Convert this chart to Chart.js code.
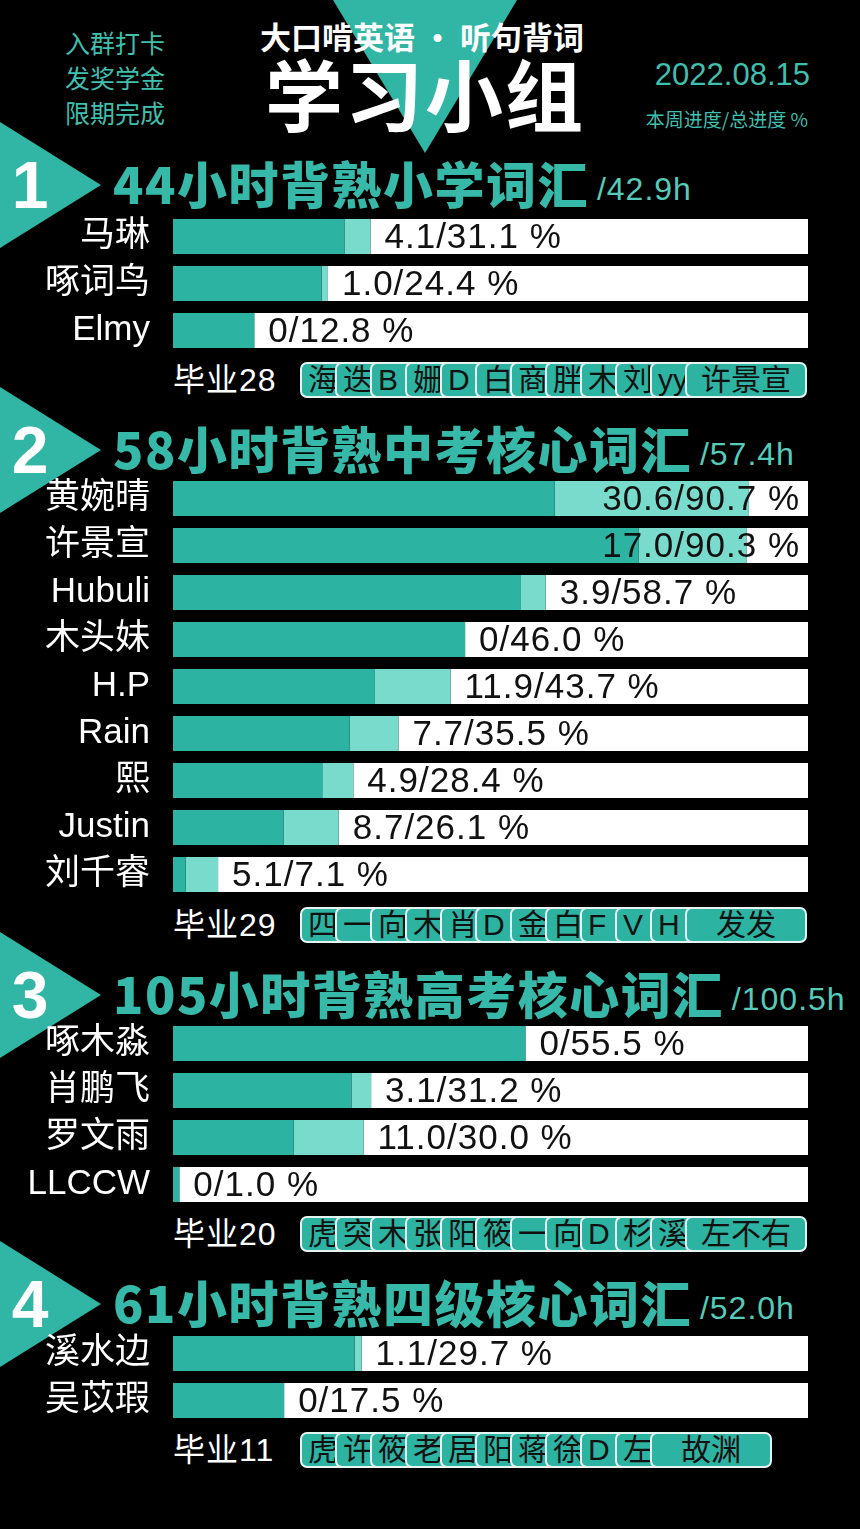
<!DOCTYPE html>
<html lang="zh">
<head>
<meta charset="utf-8">
<title>学习小组</title>
<script src="https://cdn.jsdelivr.net/npm/chart.js@4.4.1/dist/chart.umd.min.js"></script>
<style>
  html, body { margin: 0; padding: 0; background: #000; }
  body {
    width: 860px; height: 1529px; position: relative; overflow: hidden;
    font-family: "Liberation Sans", "Noto Sans CJK SC", sans-serif; color: #fff;
  }
  .abs { position: absolute; white-space: nowrap; }
  .tri { position: absolute; background: #31b6a5; }
  .side { left: 65px; font-size: 25px; color: #3fbfae; height: 34px; line-height: 34px;
          font-family: "Noto Sans CJK SC", sans-serif; }
  .num { font-size: 66px; font-weight: bold; width: 60px; text-align: center; height: 70px; line-height: 70px; }
  .title { left: 113px; height: 60px; line-height: 60px; font-size: 50px; font-weight: 900;
           letter-spacing: 1.5px; color: #36b9a8; font-family: "Noto Sans CJK SC", sans-serif; }
  .title .hr { font-family: "Liberation Sans", sans-serif; font-weight: normal; font-size: 32px;
               letter-spacing: 1px; color: #55cbba; margin-left: 8px; position: relative; top: -4px; }
  .grad { left: 173px; font-size: 32px; letter-spacing: 1px; height: 40px; line-height: 40px; }
  .pill { position: absolute; height: 36px; box-sizing: border-box; border: 2px solid #e6f4f1;
          border-radius: 7px; background: #2db3a2; color: #111; font-size: 30px; line-height: 31px;
          overflow: hidden; padding-left: 6px; font-family: "Liberation Sans", "Noto Sans CJK SC", sans-serif; }
  .pill.last { text-align: center; padding-left: 0; }
  canvas { position: absolute; left: 0; }
</style>
</head>
<body>
<div class="tri" style="left:0;top:0;width:860px;height:160px;clip-path:polygon(333px 0,517px 0,425px 153px);"></div>
<div class="abs side" style="top:25px;">入群打卡</div>
<div class="abs side" style="top:60px;">发奖学金</div>
<div class="abs side" style="top:95px;">限期完成</div>
<div class="abs" style="left:222px;width:400px;text-align:center;top:14px;font-size:31px;font-weight:bold;line-height:44px;font-family:'Noto Sans CJK SC',sans-serif;">大口啃英语 · 听句背词</div>
<div class="abs" style="left:225px;width:400px;text-align:center;top:45px;font-size:78px;font-weight:bold;line-height:94px;letter-spacing:2px;font-family:'Noto Sans CJK SC',sans-serif;">学习小组</div>
<div class="abs" style="right:50px;top:56px;font-size:31px;color:#3fbfae;line-height:38px;">2022.08.15</div>
<div class="abs" style="right:52px;top:106px;font-size:19px;color:#3fbfae;line-height:26px;font-family:'Noto Sans CJK SC',sans-serif;">本周进度/总进度 %</div>

<div id="sections"></div>

<canvas id="chart1" width="860" height="141" style="top:213px"></canvas>
<canvas id="chart2" width="860" height="423" style="top:475px"></canvas>
<canvas id="chart3" width="860" height="188" style="top:1020px"></canvas>
<canvas id="chart4" width="860" height="94" style="top:1330px"></canvas>

<script>
// 각 반 제목, 목표 시간
const sectionTitles = ['44小时背熟小学词汇', '58小时背熟中考核心词汇', '105小时背熟高考核心词汇', '61小时背熟四级核心词汇'];
const sectionTimes = ['/42.9h', '/57.4h', '/100.5h', '/52.0h'];
const gradCounts = [28, 29, 20, 11];

// 1반
const names1 = ['马琳', '啄词鸟', 'Elmy'];
const week1 = [4.1, 1.0, 0];
const total1 = [31.1, 24.4, 12.8];
const grads1 = ['海', '迭', 'B', '姗', 'D', '白', '商', '胖', '木', '刘', 'yy', '许景宣'];

// 2반
const names2 = ['黄婉晴', '许景宣', 'Hubuli', '木头妹', 'H.P', 'Rain', '熙', 'Justin', '刘千睿'];
const week2 = [30.6, 17.0, 3.9, 0, 11.9, 7.7, 4.9, 8.7, 5.1];
const total2 = [90.7, 90.3, 58.7, 46.0, 43.7, 35.5, 28.4, 26.1, 7.1];
const grads2 = ['四', '一', '向', '木', '肖', 'D', '金', '白', 'F', 'V', 'H', '发发'];

// 3반
const names3 = ['啄木淼', '肖鹏飞', '罗文雨', 'LLCCW'];
const week3 = [0, 3.1, 11.0, 0];
const total3 = [55.5, 31.2, 30.0, 1.0];
const grads3 = ['虎', '突', '木', '张', '阳', '筱', '一', '向', 'D', '杉', '溪', '左不右'];

// 4반
const names4 = ['溪水边', '吴苡瑕'];
const week4 = [1.1, 0];
const total4 = [29.7, 17.5];
const grads4 = ['虎', '许', '筱', '老', '居', '阳', '蒋', '徐', 'D', '左', '故渊'];

const DARK = '#2db3a2';
const LIGHT = '#78dbcb';
const FONT = '"Liberation Sans", "Noto Sans CJK SC", sans-serif';

// 레이아웃 (제목 줄, 졸업 줄 세로 위치)
const headY = [185, 450, 995, 1304];
const gradY = [380, 925, 1234, 1450];
const allGrads = [grads1, grads2, grads3, grads4];

function buildSections() {
    const box = document.getElementById('sections');
    sectionTitles.forEach((title, s) => {
        const cy = headY[s];
        // 삼각형 + 번호
        const tri = document.createElement('div');
        tri.className = 'tri';
        tri.style.cssText = `left:0;top:${cy - 63}px;width:102px;height:126px;clip-path:polygon(0 0,101px 63px,0 126px);`;
        box.appendChild(tri);

        const num = document.createElement('div');
        num.className = 'abs num';
        num.style.left = '0px';
        num.style.top = (cy - 35) + 'px';
        num.textContent = s + 1;
        box.appendChild(num);

        const t = document.createElement('div');
        t.className = 'abs title';
        t.style.top = (cy - 33) + 'px';
        t.innerHTML = `${title}<span class="hr">${sectionTimes[s]}</span>`;
        box.appendChild(t);

        // 졸업 줄
        const gy = gradY[s];
        const g = document.createElement('div');
        g.className = 'abs grad';
        g.style.top = (gy - 20) + 'px';
        g.textContent = '毕业' + gradCounts[s];
        box.appendChild(g);

        const list = allGrads[s];
        list.forEach((name, i) => {
            const p = document.createElement('div');
            const isLast = i === list.length - 1;
            p.className = isLast ? 'pill last' : 'pill';
            p.style.left = (300 + i * 35) + 'px';
            p.style.top = (gy - 18) + 'px';
            p.style.width = isLast ? '122px' : '48px';
            p.textContent = name;
            box.appendChild(p);
        });
    });
}

function fmtWeek(v) {
    return v === 0 ? '0' : v.toFixed(1);
}

function makeChart(canvasId, names, week, total) {
    const ctx = document.getElementById(canvasId).getContext('2d');

    // 막대 끝 뒤에 "본주/총 %" 글자
    const valueLabels = {
        id: 'valueLabels',
        afterDatasetsDraw(chart) {
            const { ctx, chartArea, scales: { x, y } } = chart;
            ctx.save();
            ctx.font = '35px ' + FONT;
            ctx.letterSpacing = '1px';
            ctx.fillStyle = '#111';
            ctx.textBaseline = 'middle';
            ctx.textAlign = 'left';
            total.forEach((t, i) => {
                const txt = fmtWeek(week[i]) + '/' + t.toFixed(1) + ' %';
                const w = ctx.measureText(txt).width;
                let px = x.getPixelForValue(t) + 14;
                px = Math.min(px, chartArea.right - 8 - w);
                ctx.fillText(txt, px, y.getPixelForValue(i) + 2);
            });
            ctx.restore();
        }
    };

    return new Chart(ctx, {
        type: 'bar',
        data: {
            labels: names,
            datasets: [
                { label: '总进度', data: total.map((t, i) => +(t - week[i]).toFixed(1)), backgroundColor: DARK },
                { label: '本周进度', data: week, backgroundColor: LIGHT },
                { label: '未完成', data: total.map(t => +(100 - t).toFixed(1)), backgroundColor: '#ffffff' }
            ]
        },
        options: {
            indexAxis: 'y',
            responsive: false,
            animation: false,
            events: [],
            layout: { padding: { left: 0, right: 52, top: 0, bottom: 0 } },
            datasets: { bar: { categoryPercentage: 35 / 47, barPercentage: 1, borderWidth: 0 } },
            plugins: { legend: { display: false }, tooltip: { enabled: false } },
            scales: {
                x: { stacked: true, min: 0, max: 100, display: false },
                y: {
                    stacked: true,
                    grid: { display: false, drawTicks: false },
                    border: { display: false },
                    ticks: { color: '#ffffff', padding: 23, font: { size: 35, family: FONT } },
                    afterFit: (scale) => {
                        scale.width = 173;
                        // 라벨 높이 때문에 생기는 위아래 여백 제거
                        scale.paddingTop = 0;
                        scale.paddingBottom = 0;
                    }
                }
            }
        },
        plugins: [valueLabels]
    });
}

buildSections();
makeChart('chart1', names1, week1, total1);
makeChart('chart2', names2, week2, total2);
makeChart('chart3', names3, week3, total3);
makeChart('chart4', names4, week4, total4);
</script>
</body>
</html>
